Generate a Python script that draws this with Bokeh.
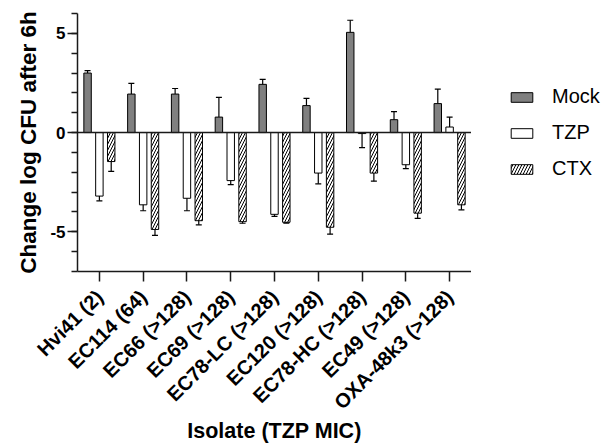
import math
from bokeh.plotting import figure
from bokeh.layouts import row
from bokeh.models import ColumnDataSource, FactorRange, FixedTicker, Span, Legend, LegendItem, Range1d
from bokeh.transform import dodge
from bokeh.embed import file_html
from bokeh.resources import INLINE

isolates = ["Hvi41 (2)", "EC114 (64)", "EC66 (>128)", "EC69 (>128)", "EC78-LC (>128)",
            "EC120 (>128)", "EC78-HC (>128)", "EC49 (>128)", "OXA-48k3 (>128)"]
mock = [3.00, 1.94, 1.94, 0.78, 2.43, 1.36, 5.05, 0.65, 1.46]
mock_err = [0.12, 0.54, 0.28, 0.99, 0.25, 0.36, 0.61, 0.41, 0.73]
tzp = [-3.20, -3.64, -3.31, -2.42, -4.12, -2.04, -0.05, -1.62, 0.28]
tzp_err = [0.24, 0.30, 0.63, 0.20, 0.10, 0.54, 0.71, 0.20, 0.50]
ctx = [-1.46, -4.88, -4.44, -4.49, -4.52, -4.77, -2.04, -4.06, -3.64]
ctx_err = [0.49, 0.30, 0.21, 0.08, 0.04, 0.35, 0.41, 0.26, 0.25]
y_ticks = [-5, 0, 5]
series = ["Mock", "TZP", "CTX"]


def ends(vals, errs):
    return [v + (e if v >= 0 else -e) for v, e in zip(vals, errs)]


src = ColumnDataSource(dict(
    iso=isolates,
    mock=mock, mock_end=ends(mock, mock_err),
    tzp=tzp, tzp_end=ends(tzp, tzp_err),
    ctx=ctx, ctx_end=ends(ctx, ctx_err),
))

FONT = "Liberation Sans"
INK = "#1a1a1a"

p = figure(x_range=FactorRange(*isolates, range_padding=0), y_range=(-7, 6),
           width=471, height=446, output_backend="svg", toolbar_location=None,
           min_border_left=77, min_border_right=0, min_border_top=13, min_border_bottom=171)
p.outline_line_color = None
p.grid.grid_line_color = None
p.background_fill_color = "white"
p.border_fill_color = "white"

p.add_layout(Span(location=0, dimension="width", line_color=INK, line_width=1.5))

off = 0.27
bw = 0.17
styles = [
    dict(fill_color="#808080", line_color="black", line_width=1),
    dict(fill_color="white", line_color="black", line_width=1),
    dict(fill_color="white", line_color="black", line_width=1,
         hatch_pattern="/", hatch_color="black", hatch_scale=6, hatch_weight=1),
]
keys = ["mock", "tzp", "ctx"]
offsets = [-off, 0, off]

for key, o, st in zip(keys, offsets, styles):
    xd = dodge("iso", o, range=p.x_range)
    p.vbar(x=xd, top=key, bottom=0, width=bw, source=src, **st)
    p.segment(x0=xd, y0=key, x1=xd, y1=key + "_end", source=src, line_color="black", line_width=1.2)
    p.scatter(x=xd, y=key + "_end", source=src, marker="dash", size=6, line_color="black", line_width=1.2)

for ax in (p.xaxis[0], p.yaxis[0]):
    ax.axis_line_color = INK
    ax.axis_line_width = 1.5
    ax.major_tick_line_color = INK
    ax.major_tick_line_width = 1.5
    ax.minor_tick_line_color = INK
    ax.minor_tick_line_width = 1.5
    ax.major_tick_in = 0
    ax.major_tick_out = 10
    ax.minor_tick_in = 0
    ax.minor_tick_out = 6
    ax.major_label_text_font = FONT
    ax.major_label_text_font_style = "bold"
    ax.major_label_text_color = "black"
    ax.axis_label_text_font = FONT
    ax.axis_label_text_font_style = "bold"
    ax.axis_label_text_color = "black"

p.yaxis.ticker = FixedTicker(ticks=y_ticks, minor_ticks=list(range(-7, 7)))
p.yaxis.major_label_overrides = {t: str(t) for t in y_ticks}
p.yaxis.major_label_text_font_size = "17px"
p.yaxis.major_label_standoff = 2
p.yaxis.axis_label = "Change log CFU after 6h"
p.yaxis.axis_label_text_font_size = "22.5px"
p.yaxis.axis_label_standoff = 6

p.xaxis.major_label_orientation = math.pi / 4
p.xaxis.major_label_text_font_size = "20px"
p.xaxis.major_label_standoff = 12
p.xaxis.axis_label = "Isolate (TZP MIC)"
p.xaxis.axis_label_text_font_size = "21.5px"
p.xaxis.axis_label_standoff = -5

# legend panel to the right of the chart (frame aligned with the chart's frame)
lg = figure(width=133, height=446, output_backend="svg", toolbar_location=None,
            x_range=Range1d(0, 1), y_range=Range1d(0, 1),
            x_axis_location=None, y_axis_location=None,
            min_border_left=0, min_border_top=13, min_border_right=0, min_border_bottom=171)
lg.outline_line_color = None
lg.grid.grid_line_color = None
lg.background_fill_color = "white"
lg.border_fill_color = "white"
items = []
for name, st in zip(series, styles):
    # legend proxy only: hidden, zero-size
    r = lg.vbar(x=[0], top=[0], bottom=[0], width=0, visible=False, **st)
    items.append(LegendItem(label=name, renderers=[r]))
legend = Legend(items=items, location=(37, 91), glyph_width=27, glyph_height=12, label_standoff=17,
                spacing=13, padding=0, margin=0, border_line_color=None,
                background_fill_alpha=0, inactive_fill_alpha=0, click_policy="none",
                label_text_font=FONT, label_text_font_size="20px",
                label_text_color="black")
lg.add_layout(legend, "center")

layout = row(p, lg)
open("out.html", "w").write(file_html(layout, INLINE))
